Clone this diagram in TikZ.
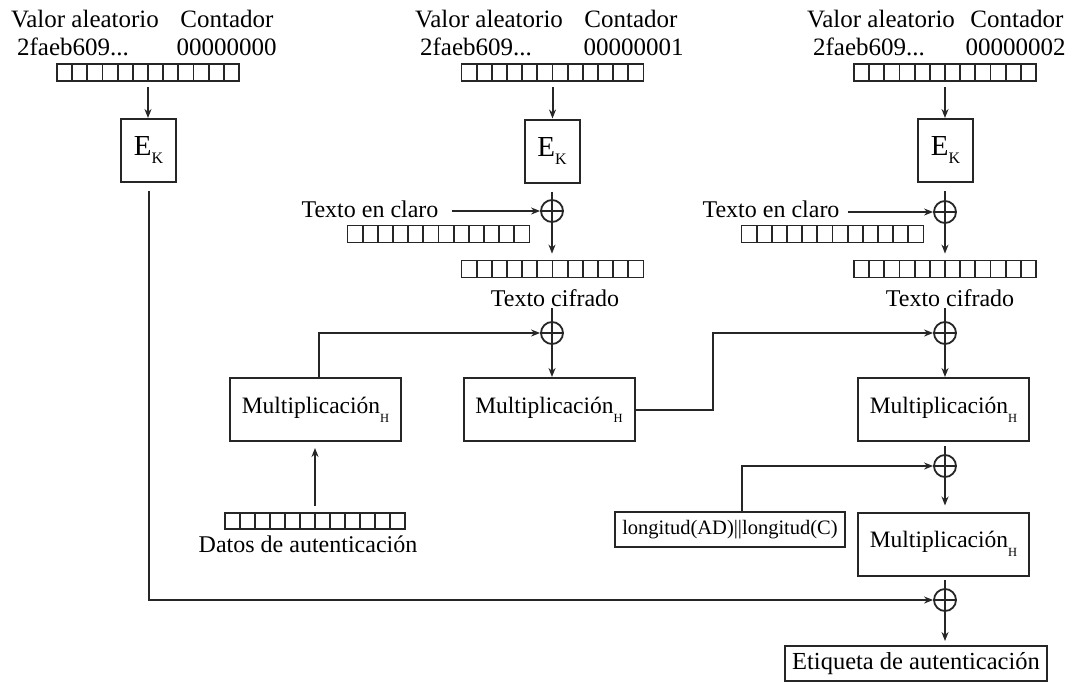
\documentclass[tikz,border=0pt]{standalone}
\usepackage{fontspec}
\setmainfont{Liberation Serif}
\usetikzlibrary{arrows.meta,calc}

% E with subscript K, and Multiplicación with subscript H
\newcommand\encK{{\fontsize{29}{29}\selectfont E}\raisebox{-8pt}{\fontsize{16}{16}\selectfont K}}
\newcommand\mulH{Multiplicación\raisebox{-9pt}{\fontsize{12.5}{12.5}\selectfont H}}

\tikzset{
  ln/.style={line width=2pt, draw=black!85},
  arr/.style={ln, -{Stealth[length=9pt,width=7pt]}},
  box/.style={rectangle, draw=black!85, line width=2pt, inner sep=0pt, align=center},
  ekbox/.style={box, minimum width=55pt, minimum height=63pt},
  mulbox/.style={box, minimum width=171pt, minimum height=63pt, font=\fontsize{23.5}{23.5}\selectfont},
  strip/.style={rectangle, draw=black!85, line width=1.8pt, inner sep=0pt,
    minimum width=182pt, minimum height=17pt,
    path picture={
      \foreach \i in {1,...,11}{
        \draw[black!85, line width=1.8pt]
          ($(path picture bounding box.south west)!\i/12!(path picture bounding box.south east)$) --
          ($(path picture bounding box.north west)!\i/12!(path picture bounding box.north east)$);
      }}},
  xor/.style={circle, draw=black!85, line width=1.8pt, minimum size=22pt, inner sep=0pt,
    path picture={
      \draw[black!85, line width=1.8pt]
        (path picture bounding box.north) -- (path picture bounding box.south)
        (path picture bounding box.west) -- (path picture bounding box.east);}},
  hdr/.style={inner sep=0pt, anchor=base, font=\fontsize{25}{25}\selectfont},
  txt/.style={inner sep=0pt, anchor=base, font=\fontsize{24}{24}\selectfont},
}

\begin{document}
\begin{tikzpicture}[x=1pt, y=-1pt]
\useasboundingbox (0,0) rectangle (1073,683);

% ---- column 1 (counter 0) ----
\node[hdr] (va1) at (85,27) {Valor aleatorio};
\node[hdr] (ct1) at (227,27) {Contador};
\node[hdr] (nv1) at (73,55) {2faeb609...};
\node[hdr] (cn1) at (226.5,55) {00000000};
\node[strip] (s1) at (148,72.5) {};
\node[ekbox] (ek1) at (148.5,150.5) {\encK};

% ---- column 2 (counter 1) ----
\node[hdr] (va2) at (489,27) {Valor aleatorio};
\node[hdr] (ct2) at (631,27) {Contador};
\node[hdr] (nv2) at (476,55) {2faeb609...};
\node[hdr] (cn2) at (633.5,55) {00000001};
\node[strip] (s2) at (552.5,72.5) {};
\node[ekbox] (ek2) at (552,151) {\encK};
\node[xor] (x21) at (552,211) {};
\node[txt] (tp2) at (370,217) {Texto en claro};
\node[strip] (ps2) at (438.5,234) {};
\node[strip] (cs2) at (552.5,269) {};
\node[txt] (tc2) at (555,306) {Texto cifrado};
\node[xor] (x22) at (552,333) {};
\node[mulbox] (mM) at (549,409.5) {\mulH};

% ---- authenticated data ----
\node[mulbox] (mL) at (315.5,409.5) {\mulH};
\node[strip, minimum width=180pt, minimum height=16pt] (ds) at (315,521) {};
\node[txt] (dt) at (308,552) {Datos de autenticación};

% ---- column 3 (counter 2) ----
\node[hdr] (va3) at (881,27) {Valor aleatorio};
\node[hdr] (ct3) at (1017,27) {Contador};
\node[hdr] (nv3) at (869,55) {2faeb609...};
\node[hdr] (cn3) at (1015.5,55) {00000002};
\node[strip] (s3) at (945,72.5) {};
\node[ekbox] (ek3) at (945.5,150.5) {\encK};
\node[xor] (x31) at (945,212) {};
\node[txt] (tp3) at (771,217) {Texto en claro};
\node[strip] (ps3) at (832.5,234) {};
\node[strip] (cs3) at (945,269) {};
\node[txt] (tc3) at (950,306) {Texto cifrado};
\node[xor] (x32) at (945,333) {};
\node[mulbox] (m3) at (943.5,409.5) {\mulH};
\node[xor] (x33) at (945,466) {};
\node[box, minimum width=230pt, minimum height=35pt, font=\fontsize{20.5}{20.5}\selectfont]
  (lg) at (730,529.5) {longitud(AD)||longitud(C)};
\node[mulbox] (m4) at (943.5,544) {\mulH};
\node[xor] (x34) at (945,600) {};
\node[box, minimum width=262pt, minimum height=35pt, font=\fontsize{24.5}{24.5}\selectfont]
  (et) at (916,663.5) {Etiqueta de autenticación};

% ---- connectors ----
\draw[arr, shorten <=5pt] (s1.south) -- (s1.south |- ek1.north);
\draw[arr, shorten <=8pt] (ek1.south) |- (x34.west);

\draw[arr, shorten <=5pt] (s2.south) -- (s2.south |- ek2.north);
\draw[ln, shorten <=8pt] (ek2.south -| x21.north) -- (x21.north);
\draw[arr, shorten <=13pt] (tp2.east |- x21.west) -- (x21.west);
\draw[arr, shorten >=6pt] (x21.south) -- (x21.south |- cs2.north);
\draw[ln, shorten <=2pt] (tc2.south -| x22.north) -- (x22.north);
\draw[arr] (x22.south) -- (x22.south |- mM.north);
\draw[arr] ([xshift=3pt]mL.north) |- (x22.west);
\draw[arr, shorten <=6pt, shorten >=6pt] (ds.north) -- (ds.north |- mL.south);
\draw[arr] (mM.east) -- ($(mM.east)+(77,0)$) |- (x32.west);

\draw[arr, shorten <=5pt] (s3.south) -- (s3.south |- ek3.north);
\draw[ln, shorten <=8pt] (ek3.south -| x31.north) -- (x31.north);
\draw[arr, shorten <=8pt] (tp3.east |- x31.west) -- (x31.west);
\draw[arr, shorten >=6pt] (x31.south) -- (x31.south |- cs3.north);
\draw[ln, shorten <=2pt] (tc3.south -| x32.north) -- (x32.north);
\draw[arr] (x32.south) -- (x32.south |- m3.north);
\draw[ln, shorten <=4pt] (m3.south -| x33.north) -- (x33.north);
\draw[arr] ([xshift=12pt]lg.north) |- (x33.west);
\draw[arr, shorten >=6pt] (x33.south) -- (x33.south |- m4.north);
\draw[ln, shorten <=3pt] (m4.south -| x34.north) -- (x34.north);
\draw[arr, shorten >=4pt] (x34.south) -- (x34.south |- et.north);
\end{tikzpicture}
\end{document}
